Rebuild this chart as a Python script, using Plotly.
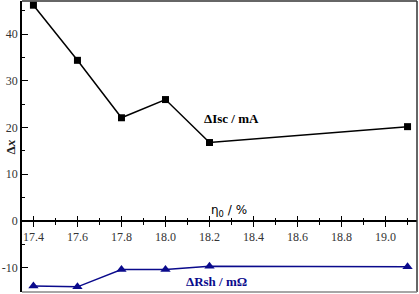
import plotly.graph_objects as go

eta = [17.4, 17.6, 17.8, 18.0, 18.2, 19.1]
d_isc = [46.2, 34.4, 22.1, 26.0, 16.8, 20.2]
d_rsh = [-13.9, -14.1, -10.4, -10.4, -9.7, -9.8]

x_ticks = [17.4, 17.6, 17.8, 18.0, 18.2, 18.4, 18.6, 18.8, 19.0]
x_tick_labels = ["17.4", "17.6", "17.8", "18.0", "18.2", "18.4", "18.6", "18.8", "19.0"]
y_ticks = [-10, 0, 10, 20, 30, 40]
y_tick_labels = ["-10", "0", "10", "20", "30", "40"]

XR = [17.348, 19.143]
YR = [-15.2, 47.1]
zero_pos = (0 - YR[0]) / (YR[1] - YR[0])

serif = "Liberation Serif, Times New Roman, serif"
navy = "#0a0a8c"

fig = go.Figure()
fig.add_trace(go.Scatter(x=eta, y=d_isc, mode="lines+markers",
                         line=dict(color="black", width=1.5),
                         marker=dict(symbol="square", size=7, color="black"),
                         showlegend=False, cliponaxis=False))
fig.add_trace(go.Scatter(x=eta, y=d_rsh, mode="lines+markers",
                         line=dict(color=navy, width=1.5),
                         marker=dict(symbol="triangle-up", size=9, color=navy),
                         showlegend=False, cliponaxis=False))
fig.add_trace(go.Scatter(x=[eta[0]], y=[d_isc[0]], xaxis="x2", mode="markers",
                         marker=dict(opacity=0), showlegend=False, hoverinfo="skip"))

tickfont = dict(family=serif, size=12, color="#333")
fig.update_layout(
    width=419, height=294,
    margin=dict(l=22, r=2, t=1, b=2, autoexpand=False),
    paper_bgcolor="white", plot_bgcolor="white",
    xaxis=dict(range=XR, anchor="free", position=zero_pos, automargin=False,
               showline=True, linecolor="black", linewidth=1.5,
               tickmode="array", tickvals=x_ticks, ticktext=x_tick_labels,
               ticks="outside", ticklen=5, tickwidth=1.2, tickcolor="black",
               minor=dict(dtick=0.1, ticks="outside", ticklen=3, tickcolor="black", tickwidth=1),
               tickfont=tickfont, showgrid=False, zeroline=False),
    xaxis2=dict(range=XR, overlaying="x", anchor="free", position=zero_pos, automargin=False,
                showline=False, tickmode="array", tickvals=x_ticks,
                ticks="inside", ticklen=5, tickwidth=1.2, tickcolor="black",
                minor=dict(dtick=0.1, ticks="inside", ticklen=3, tickcolor="black", tickwidth=1),
                showticklabels=False, showgrid=False, zeroline=False, side="bottom"),
    yaxis=dict(range=YR, showline=True, linecolor="black", linewidth=1.5, automargin=False,
               tickmode="array", tickvals=y_ticks, ticktext=y_tick_labels,
               ticks="inside", ticklen=6, tickwidth=1.2, tickcolor="black",
               minor=dict(dtick=5, ticks="inside", ticklen=3, tickcolor="black"),
               tickfont=tickfont, showgrid=False, zeroline=False),
    shapes=[
        dict(type="line", xref="paper", yref="paper", x0=0, x1=1, y0=1, y1=1,
             line=dict(color="#333", width=1.5)),
        dict(type="line", xref="paper", yref="paper", x0=1, x1=1, y0=0, y1=1,
             line=dict(color="#333", width=1.5)),
        dict(type="line", xref="paper", yref="paper", x0=0, x1=1, y0=0, y1=0,
             line=dict(color="#888", width=1.5)),
    ],
    annotations=[
        dict(x=-0.052, y=0.5, xref="paper", yref="paper", text="<b>Δ<i>x</i></b>",
             showarrow=False, textangle=-90,
             font=dict(family=serif, size=13, color="#222")),
        dict(x=18.3, y=22.0, xref="x", yref="y", text="<b>ΔIsc / mA</b>", showarrow=False,
             font=dict(family=serif, size=13, color="black")),
        dict(x=18.23, y=-13.0, xref="x", yref="y", text="<b>ΔRsh / mΩ</b>", showarrow=False,
             font=dict(family=serif, size=13, color=navy)),
        dict(x=18.29, y=2.2, xref="x", yref="y", text="η<sub>0</sub> / %", showarrow=False,
             font=dict(family="DejaVu Sans, Arial, sans-serif", size=12, color="black")),
    ],
)

fig.write_html("out.html", config={"displayModeBar": False},
               post_script="document.body.style.margin='0';")
